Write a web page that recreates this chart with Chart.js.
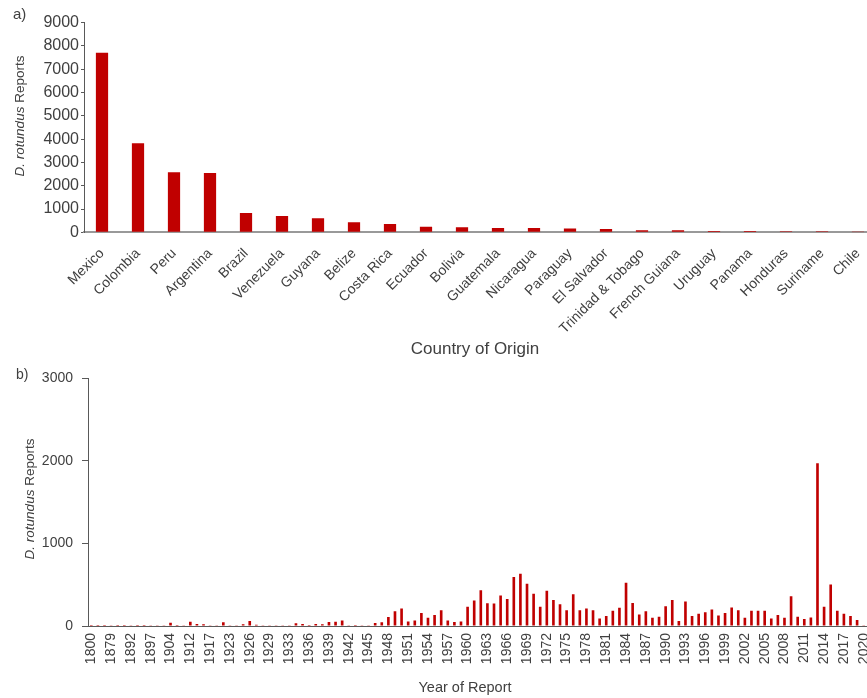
<!DOCTYPE html>
<html>
<head>
<meta charset="utf-8">
<script src="https://cdn.jsdelivr.net/npm/chart.js@4"></script>
<style>
  body { margin: 0; background: #fff; }
  #wrap { width: 867px; height: 698px; overflow: hidden; }
  canvas { display: block; }
</style>
</head>
<body>
<div id="wrap">
  <canvas id="countries" width="876" height="360"></canvas>
  <canvas id="years" width="867" height="338"></canvas>
</div>
<script>
// panel a: reports by country of origin
const countries = ['Mexico', 'Colombia', 'Peru', 'Argentina', 'Brazil', 'Venezuela', 'Guyana', 'Belize',
  'Costa Rica', 'Ecuador', 'Bolivia', 'Guatemala', 'Nicaragua', 'Paraguay', 'El Salvador',
  'Trinidad & Tobago', 'French Guiana', 'Uruguay', 'Panama', 'Honduras', 'Suriname', 'Chile']
const countryReports = [7710, 3820, 2580, 2550, 830, 700, 600, 430, 356, 240, 215, 185, 185, 165, 140,
  86, 86, 56, 56, 50, 40, 5]

// panel b: reports by year (only years present in the data set)
const years = [
  '1800', '1845', '1866', '1879', '1884', '1888', '1892', '1894', '1895', '1897', '1900', '1902',
  '1904', '1906', '1910', '1912', '1914', '1916', '1917', '1920', '1921', '1923', '1924', '1925',
  '1926', '1927', '1928', '1929', '1930', '1931', '1933', '1934', '1935', '1936', '1937', '1938',
  '1939', '1940', '1941', '1942', '1943', '1944', '1945', '1946', '1947', '1948', '1949', '1950',
  '1951', '1952', '1953', '1954', '1955', '1956', '1957', '1958', '1959', '1960', '1961', '1962',
  '1963', '1964', '1965', '1966', '1967', '1968', '1969', '1970', '1971', '1972', '1973', '1974',
  '1975', '1976', '1977', '1978', '1979', '1980', '1981', '1982', '1983', '1984', '1985', '1986',
  '1987', '1988', '1989', '1990', '1991', '1992', '1993', '1994', '1995', '1996', '1997', '1998',
  '1999', '2000', '2001', '2002', '2003', '2004', '2005', '2006', '2007', '2008', '2009', '2010',
  '2011', '2012', '2013', '2014', '2015', '2016', '2017', '2018', '2019', '2020']
const yearReports = [
  1, 1, 1, 2, 1, 1, 2, 1, 1, 2, 3, 2,
  40, 12, 3, 52, 24, 20, 4, 3, 44, 3, 3, 20,
  60, 16, 3, 2, 2, 3, 2, 32, 24, 12, 24, 20,
  48, 52, 68, 2, 1, 2, 8, 36, 44, 108, 180, 212,
  56, 68, 156, 100, 132, 192, 68, 48, 56, 232, 308, 432,
  276, 272, 368, 328, 592, 632, 512, 392, 232, 428, 316, 264,
  192, 384, 192, 212, 192, 92, 120, 184, 220, 524, 280, 140,
  180, 100, 112, 240, 316, 60, 296, 120, 148, 168, 200, 128,
  156, 224, 192, 100, 184, 184, 184, 92, 132, 100, 360, 112,
  84, 104, 1970, 232, 504, 184, 148, 120, 72, 8]

const FONT = '"Liberation Sans", Arial, sans-serif'
const TEXT = '#404040'
const AXIS = '#595959'
const RED = '#C00000'

// panel letter, x title and the y title with the italic species name
const annotate = {
  id: 'annotate',
  afterDraw(chart, args, o) {
    const ctx = chart.ctx
    ctx.save()
    ctx.fillStyle = TEXT
    ctx.textBaseline = 'middle'
    ctx.textAlign = 'left'
    ctx.font = `${o.size}px ${FONT}`
    ctx.fillText(o.letter, o.letterX, o.letterY)
    ctx.textAlign = 'center'
    ctx.font = `${o.titleSize}px ${FONT}`
    ctx.fillText(o.xTitle, o.xTitleX, o.xTitleY)

    ctx.translate(o.yTitleX, o.yTitleY)
    ctx.rotate(-Math.PI / 2)
    ctx.textAlign = 'left'
    const italic = `italic ${o.ySize}px ${FONT}`
    const normal = `${o.ySize}px ${FONT}`
    ctx.font = italic
    const w1 = ctx.measureText('D. rotundus').width
    ctx.font = normal
    const w2 = ctx.measureText(' Reports').width
    const x0 = -(w1 + w2) / 2
    ctx.font = italic
    ctx.fillText('D. rotundus', x0, 0)
    ctx.font = normal
    ctx.fillText(' Reports', x0 + w1, 0)
    ctx.restore()
  }
}

new Chart(document.getElementById('countries'), {
  type: 'bar',
  data: {
    labels: countries,
    datasets: [{ data: countryReports, backgroundColor: RED, barPercentage: 0.34, categoryPercentage: 1 }]
  },
  options: {
    responsive: false,
    animation: false,
    layout: { padding: { top: 22.7, left: 0, right: 0, bottom: 0 } },
    plugins: {
      legend: { display: false },
      tooltip: { enabled: false },
      annotate: {
        letter: 'a)', letterX: 13, letterY: 15, size: 15,
        xTitle: 'Country of Origin', xTitleX: 475, xTitleY: 349, titleSize: 17,
        yTitleX: 20, yTitleY: 116, ySize: 13.5
      }
    },
    scales: {
      x: {
        grid: { display: false, drawTicks: false },
        border: { display: true, color: '#999999', width: 2 },
        ticks: { color: TEXT, font: { family: FONT, size: 14 }, minRotation: 45, maxRotation: 45, autoSkip: false, padding: 13 },
        afterFit(s) { s.height = 127.7; s.paddingLeft = 0; s.paddingRight = 0 }
      },
      y: {
        min: 0, max: 9000,
        ticks: { stepSize: 1000, color: TEXT, font: { family: FONT, size: 16 }, padding: 2, callback: v => String(v) },
        grid: { drawOnChartArea: false, tickLength: 3, tickColor: AXIS },
        border: { color: AXIS },
        afterFit(s) { s.width = 84 }
      }
    }
  },
  plugins: [annotate]
})

new Chart(document.getElementById('years'), {
  type: 'bar',
  data: {
    labels: years,
    datasets: [{ data: yearReports, backgroundColor: RED, barPercentage: 0.4, categoryPercentage: 1 }]
  },
  options: {
    responsive: false,
    animation: false,
    layout: { padding: { top: 18.3, left: 0, right: 0, bottom: 0 } },
    plugins: {
      legend: { display: false },
      tooltip: { enabled: false },
      annotate: {
        letter: 'b)', letterX: 16, letterY: 15, size: 14,
        xTitle: 'Year of Report', xTitleX: 465, xTitleY: 328, titleSize: 14.5,
        yTitleX: 30, yTitleY: 139, ySize: 13.5
      }
    },
    scales: {
      x: {
        grid: { display: false, drawTicks: false },
        border: { display: true, color: AXIS, width: 1 },
        ticks: {
          color: TEXT, font: { family: FONT, size: 14 }, minRotation: 90, maxRotation: 90, autoSkip: false, padding: 7,
          callback: (v, i) => (i % 3 === 0 ? years[i] : '')
        },
        afterFit(s) { s.height = 72; s.paddingLeft = 0; s.paddingRight = 0 }
      },
      y: {
        min: 0, max: 3000,
        ticks: { stepSize: 1000, color: TEXT, font: { family: FONT, size: 14 }, padding: 9, callback: v => String(v) },
        grid: { drawOnChartArea: false, tickLength: 6, tickColor: AXIS },
        border: { color: AXIS },
        afterFit(s) { s.width = 88 }
      }
    }
  },
  plugins: [annotate]
})
</script>
</body>
</html>
